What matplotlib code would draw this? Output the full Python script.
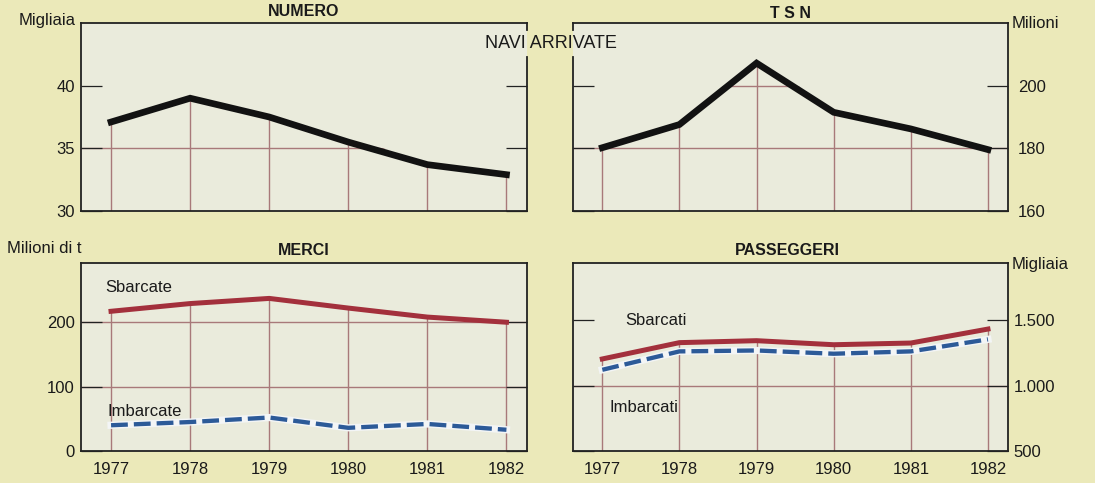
import matplotlib.pyplot as plt
from matplotlib.patches import Polygon

plt.rcParams['font.family'] = ['Liberation Sans', 'DejaVu Sans']

years = [1977, 1978, 1979, 1980, 1981, 1982]

# navi arrivate
numero = [37.1, 39.0, 37.5, 35.5, 33.7, 32.9]          # migliaia
tsn = [180.2, 187.6, 207.2, 191.5, 186.2, 179.6]       # milioni

# merci, milioni di t
merci_sbarcate = [217, 229, 237, 222, 208, 200]
merci_imbarcate = [40, 45, 52, 36, 42, 33]

# passeggeri, migliaia
pass_sbarcati = [1205, 1330, 1345, 1314, 1327, 1434]
pass_imbarcati = [1122, 1263, 1270, 1245, 1263, 1355]

numero_ticks = [30, 35, 40]
tsn_ticks = [160, 180, 200]
merci_ticks = [0, 100, 200]
pass_ticks = [500, 1000, 1500]
pass_tick_labels = ['500', '1.000', '1.500']

W, H = 1095, 483
PAPER = '#ebe9b9'
PLOT_BG = '#eaebdc'
GRID = '#a8797a'
SPINE = '#222222'
BLACK = '#121212'
RED = '#a3303c'
BLUE = '#2c5a98'
XLIM = (1976.62, 1982.26)

fig = plt.figure(figsize=(W / 100, H / 100), dpi=100, facecolor=PAPER)


def px_rect(x0, y0, x1, y1):
    return [x0 / W, 1 - y1 / H, (x1 - x0) / W, (y1 - y0) / H]


def panel(rect, ylim, ticks, labels, side, top, pad, bottom_row):
    ax = fig.add_axes(rect, facecolor=PLOT_BG)
    ax.set_xlim(*XLIM)
    ax.set_ylim(*ylim)
    for sp in ax.spines.values():
        sp.set_color(SPINE)
        sp.set_linewidth(1.3)

    # region under the top curve, used to cut the grid
    margin = (ylim[1] - ylim[0]) * 0.02
    verts = [(XLIM[0], ylim[0]), (XLIM[0], top[0] + margin)]
    verts += [(x, v + margin) for x, v in zip(years, top)]
    verts += [(XLIM[1], top[-1] + margin), (XLIM[1], ylim[0])]
    clip = Polygon(verts, closed=True, transform=ax.transData,
                   facecolor='none', edgecolor='none')
    ax.add_patch(clip)

    ax.vlines(years, ylim[0], top, colors=GRID, lw=1.0, zorder=1)
    for t in ticks[1:]:
        ln = ax.axhline(t, color=GRID, lw=1.0, zorder=1)
        ln.set_clip_path(clip)

    ax.set_yticks(ticks)
    ax.set_yticklabels(labels)
    ax.tick_params(axis='y', direction='in', length=15, width=0.9,
                   color=SPINE, left=True, right=True,
                   labelleft=(side == 'left'), labelright=(side == 'right'),
                   labelsize=12, pad=pad, labelcolor='#1a1a1a')
    ax.set_xticks(years)
    ax.tick_params(axis='x', length=0, labelsize=12, pad=8,
                   labelbottom=bottom_row, labelcolor='#1a1a1a')
    return ax


ax_num = panel(px_rect(81, 23, 527, 211), (30, 45), numero_ticks,
               [str(t) for t in numero_ticks], 'left', numero, 4.5, False)
ax_tsn = panel(px_rect(573, 23, 1008, 211), (160, 220), tsn_ticks,
               [str(t) for t in tsn_ticks], 'right', tsn, 7, False)
ax_mer = panel(px_rect(81, 263, 527, 451), (0, 292), merci_ticks,
               [str(t) for t in merci_ticks], 'left', merci_sbarcate, 4.5, True)
ax_pas = panel(px_rect(573, 263, 1008, 451), (500, 1940), pass_ticks,
               pass_tick_labels, 'right', pass_sbarcati, 4, True)

ax_num.plot(years, numero, color=BLACK, lw=4.8, solid_joinstyle='miter', zorder=3)
ax_tsn.plot(years, tsn, color=BLACK, lw=4.8, solid_joinstyle='miter', zorder=3)


def arrivals(ax, sbarcati, imbarcati):
    ax.plot(years, sbarcati, color=RED, lw=3.6, zorder=3)
    ax.plot(years, imbarcati, color='#f3f5f6', lw=5.2, zorder=3)
    ax.plot(years, imbarcati, color=BLUE, lw=3.1, dashes=(3.9, 1.4),
            dash_capstyle='butt', zorder=4)


arrivals(ax_mer, merci_sbarcate, merci_imbarcate)
arrivals(ax_pas, pass_sbarcati, pass_imbarcati)

ax_mer.text(1976.93, 254, 'Sbarcate', fontsize=12, va='center', color='#1a1a1a')
ax_mer.text(1976.95, 61, 'Imbarcate', fontsize=12, va='center', color='#1a1a1a')
ax_pas.text(1977.3, 1500, 'Sbarcati', fontsize=12, va='center', color='#1a1a1a')
ax_pas.text(1977.09, 830, 'Imbarcati', fontsize=12, va='center', color='#1a1a1a')

# break the facing spines where the shared heading sits
ax_num.spines['right'].set_visible(False)
ax_tsn.spines['left'].set_visible(False)
for ax, x in ((ax_num, 1), (ax_tsn, 0)):
    for y0, y1 in ((0, 0.82), (0.963, 1)):
        ax.plot([x, x], [y0, y1], transform=ax.transAxes, clip_on=False,
                color=SPINE, lw=1.3, solid_capstyle='projecting')


def ftext(x, y, s, **kw):
    fig.text(x / W, 1 - y / H, s, va='center', color='#1a1a1a', **kw)


ftext(304, 12, 'NUMERO', ha='center', fontsize=11.5, fontweight='bold')
ftext(790, 13, 'T S N', ha='center', fontsize=11.5, fontweight='bold')
ftext(304, 251, 'MERCI', ha='center', fontsize=11.5, fontweight='bold')
ftext(787, 251, 'PASSEGGERI', ha='center', fontsize=11.5, fontweight='bold')
ftext(551, 44, 'NAVI ARRIVATE', ha='center', fontsize=13)
ftext(76, 20, 'Migliaia', ha='right', fontsize=12)
ftext(1012, 24, 'Milioni', ha='left', fontsize=12)
ftext(7, 248, 'Milioni di t', ha='left', fontsize=12)
ftext(1012, 265, 'Migliaia', ha='left', fontsize=12)

fig.savefig('out.png', dpi=100, facecolor=PAPER)
